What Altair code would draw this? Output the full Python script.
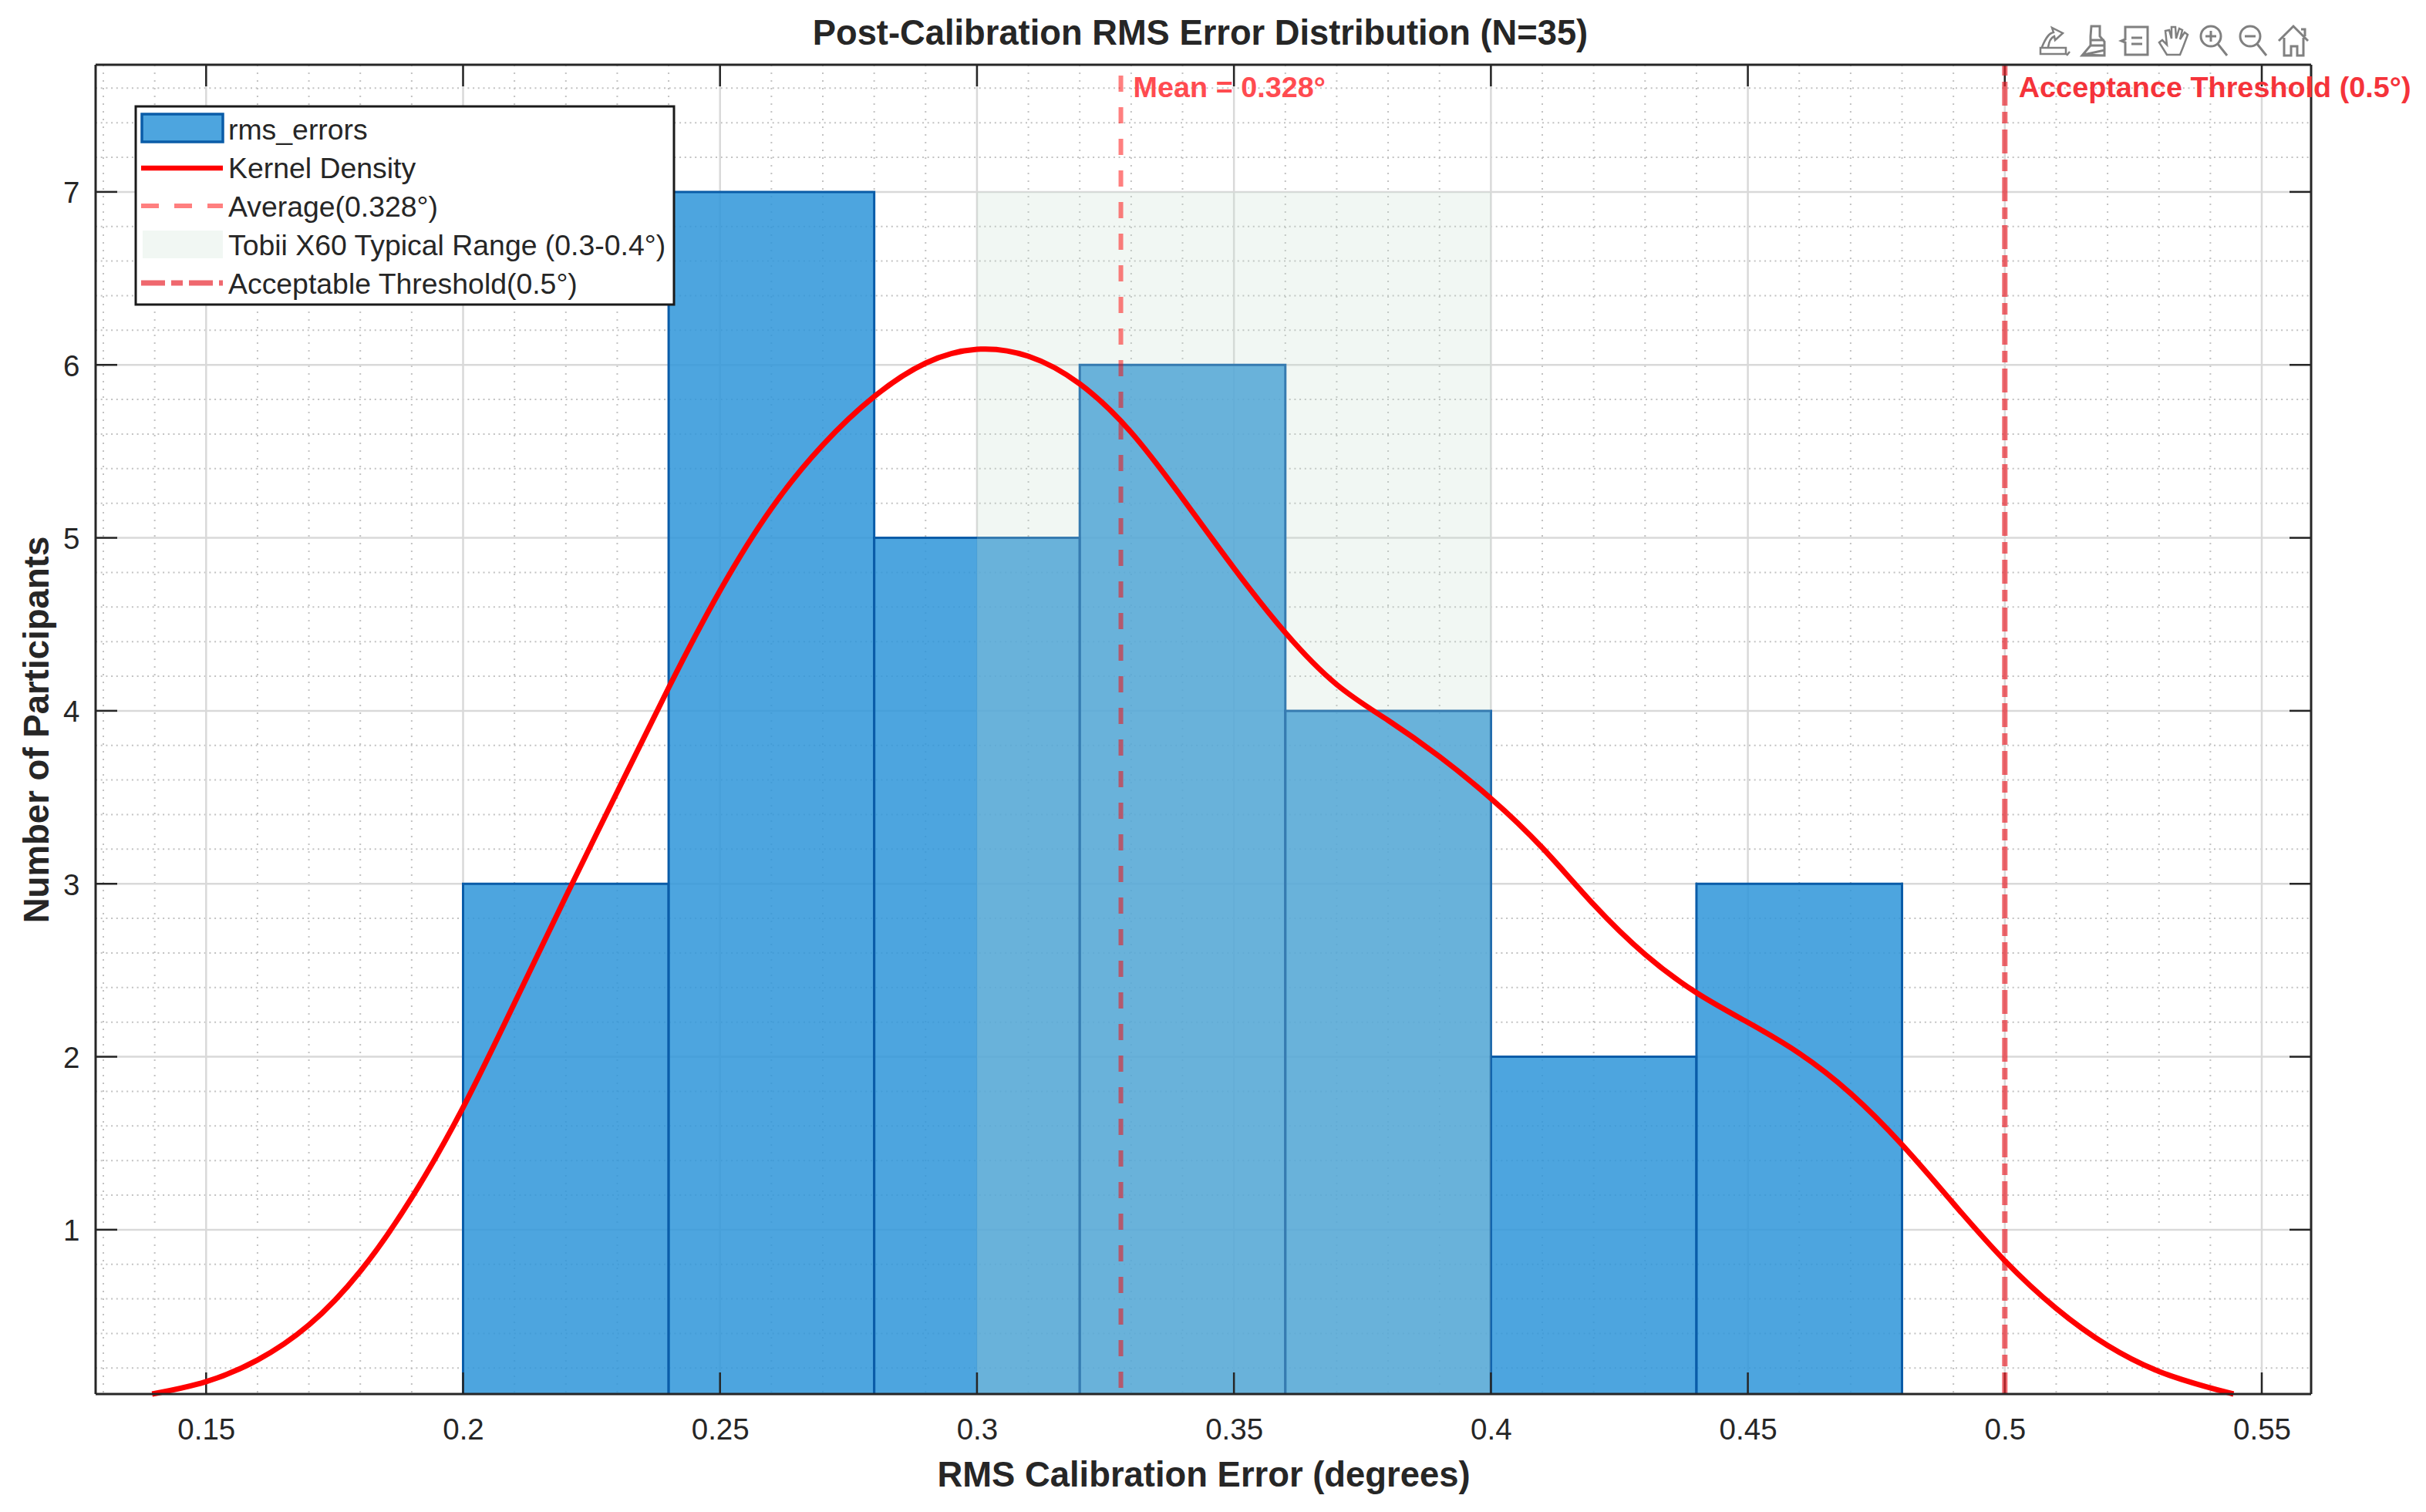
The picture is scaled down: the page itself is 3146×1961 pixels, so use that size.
import altair as alt
import pandas as pd

# ---- data ----
bin_left = [0.20, 0.24, 0.28, 0.32, 0.36, 0.40, 0.44]
bin_right = [0.24, 0.28, 0.32, 0.36, 0.40, 0.44, 0.48]
bin_count = [3, 7, 5, 6, 4, 2, 3]

kde_x = [0.1395, 0.15, 0.16, 0.17, 0.18, 0.19, 0.20, 0.21, 0.22, 0.23, 0.24,
         0.25, 0.26, 0.27, 0.28, 0.29, 0.30, 0.31, 0.32, 0.33, 0.34, 0.35, 0.36,
         0.37, 0.38, 0.39, 0.40, 0.41, 0.42, 0.43, 0.44, 0.45, 0.46, 0.47, 0.48, 0.49,
         0.50, 0.51, 0.52, 0.53, 0.54, 0.5445]
kde_y = [0.05, 0.11, 0.235, 0.43, 0.74, 1.17, 1.69, 2.31, 2.93, 3.53, 4.14,
         4.71, 5.19, 5.55, 5.83, 6.03, 6.11, 6.07, 5.91, 5.63, 5.23, 4.82, 4.44,
         4.13, 3.95, 3.74, 3.50, 3.22, 2.87, 2.58, 2.36, 2.20, 2.03, 1.80, 1.50, 1.15,
         0.81, 0.535, 0.32, 0.17, 0.085, 0.05]

x_ticks = [0.15, 0.2, 0.25, 0.3, 0.35, 0.4, 0.45, 0.5, 0.55]
y_ticks = [1, 2, 3, 4, 5, 6, 7]
x_minor = [0.13, 0.14, 0.16, 0.17, 0.18, 0.19, 0.21, 0.22, 0.23, 0.24, 0.26, 0.27, 0.28, 0.29,
           0.31, 0.32, 0.33, 0.34, 0.36, 0.37, 0.38, 0.39, 0.41, 0.42, 0.43, 0.44, 0.46, 0.47,
           0.48, 0.49, 0.51, 0.52, 0.53, 0.54]
y_minor = [0.2, 0.4, 0.6, 0.8, 1.2, 1.4, 1.6, 1.8, 2.2, 2.4, 2.6, 2.8, 3.2, 3.4, 3.6, 3.8,
           4.2, 4.4, 4.6, 4.8, 5.2, 5.4, 5.6, 5.8, 6.2, 6.4, 6.6, 6.8, 7.2, 7.4, 7.6]

mean_value = 0.328
threshold_value = 0.5
band_low, band_high, band_top = 0.3, 0.4, 7
note_y = 7.597

legend_labels = ["rms_errors", "Kernel Density", "Average(0.328°)",
                 "Tobii X60 Typical Range (0.3-0.4°)", "Acceptable Threshold(0.5°)"]

# ---- layout ----
W, H = 2873, 1724
FONT = "Liberation Sans"
INK = "#262626"
xs = alt.Scale(domain=[0.1285, 0.5596], nice=False, zero=False)
ys = alt.Scale(domain=[0.05, 7.735], nice=False, zero=False)

axis_x = alt.Axis(values=x_ticks, format=".2~f", grid=False, domain=False, ticks=False,
                  labelFont=FONT, labelFontSize=38.5, labelColor=INK, labelPadding=28,
                  title="RMS Calibration Error (degrees)", titleFont=FONT, titleFontSize=45.4,
                  titleFontWeight="bold", titleColor=INK, titlePadding=18, labelFlush=False)
axis_y = alt.Axis(values=y_ticks, format="d", grid=False, domain=False, ticks=False,
                  labelFont=FONT, labelFontSize=38.5, labelColor=INK, labelPadding=21, labelOffset=2,
                  title="Number of Participants", titleFont=FONT, titleFontSize=45.6,
                  titleFontWeight="bold", titleColor=INK, titlePadding=9)

X = lambda f: alt.X(f, type="quantitative", scale=xs, axis=axis_x)
Y = lambda f: alt.Y(f, type="quantitative", scale=ys, axis=axis_y)

def frame(name, values):
    return pd.DataFrame({name: values})

layers = []

layers.append(alt.Chart(frame("x", x_minor)).mark_rule(color="#c2c2c2", strokeWidth=2, strokeDash=[2, 8])
              .encode(x=X("x:Q"), y=alt.value(0), y2=alt.value(H)))
layers.append(alt.Chart(frame("y", y_minor)).mark_rule(color="#c2c2c2", strokeWidth=2, strokeDash=[2, 4.7])
              .encode(y=Y("y:Q"), x=alt.value(0), x2=alt.value(W)))
layers.append(alt.Chart(frame("x", x_ticks)).mark_rule(color="#d9d9d9", strokeWidth=2.5)
              .encode(x=X("x:Q"), y=alt.value(0), y2=alt.value(H)))
layers.append(alt.Chart(frame("y", y_ticks)).mark_rule(color="#d9d9d9", strokeWidth=2.5)
              .encode(y=Y("y:Q"), x=alt.value(0), x2=alt.value(W)))

# histogram
bars = pd.DataFrame({"a": bin_left, "b": bin_right, "n": bin_count})
layers.append(alt.Chart(bars).mark_bar(fill="#2E95D9", fillOpacity=0.85, stroke="#0A5CA8",
                                       strokeWidth=3, clip=True)
              .encode(x=X("a:Q"), x2="b:Q", y=Y("n:Q"), y2=alt.datum(0)))

# Tobii band
band = pd.DataFrame({"a": [band_low], "b": [band_high], "t": [band_top]})
layers.append(alt.Chart(band).mark_rect(fill="#C3DECD", fillOpacity=0.24, clip=True)
              .encode(x=X("a:Q"), x2="b:Q", y=Y("t:Q"), y2=alt.datum(0)))

# mean line
layers.append(alt.Chart(frame("x", [mean_value])).mark_rule(color="#ff0000", opacity=0.5, strokeWidth=6,
                                                            strokeDash=[21, 20], strokeDashOffset=27)
              .encode(x=X("x:Q"), y=alt.value(0), y2=alt.value(H)))

# inward ticks
tick_len = 28
for y0, y1 in [(H, H - tick_len), (0, tick_len)]:
    layers.append(alt.Chart(frame("x", x_ticks)).mark_rule(color=INK, strokeWidth=2.5)
                  .encode(x=X("x:Q"), y=alt.value(y0), y2=alt.value(y1)))
for x0, x1 in [(0, tick_len), (W, W - tick_len)]:
    layers.append(alt.Chart(frame("y", y_ticks)).mark_rule(color=INK, strokeWidth=2.5)
                  .encode(y=Y("y:Q"), x=alt.value(x0), x2=alt.value(x1)))

# threshold
layers.append(alt.Chart(frame("x", [threshold_value])).mark_rule(color="#e8202a", opacity=0.68, strokeWidth=7,
                                                                 strokeDash=[31, 8, 15, 8], strokeDashOffset=40)
              .encode(x=X("x:Q"), y=alt.value(0), y2=alt.value(H)))

# kernel density
kde = pd.DataFrame({"x": kde_x, "y": kde_y})
layers.append(alt.Chart(kde).mark_line(color="#ff0000", strokeWidth=7, interpolate="basis")
              .encode(x=X("x:Q"), y=Y("y:Q"), order=alt.Order("x:Q")))

# frame
for enc in [dict(x=alt.value(0), x2=alt.value(W), y=alt.value(0)),
            dict(x=alt.value(0), x2=alt.value(W), y=alt.value(H)),
            dict(y=alt.value(0), y2=alt.value(H), x=alt.value(0)),
            dict(y=alt.value(0), y2=alt.value(H), x=alt.value(W))]:
    layers.append(alt.Chart(frame("k", [0])).mark_rule(color=INK, strokeWidth=3).encode(**enc))

# annotations
layers.append(alt.Chart(pd.DataFrame({"x": [mean_value], "y": [note_y], "t": ["Mean = 0.328°"]}))
              .mark_text(font=FONT, fontSize=37.8, fontWeight="bold", color="#ff4b50", align="left",
                         baseline="middle", dx=16)
              .encode(x=X("x:Q"), y=Y("y:Q"), text="t:N"))
layers.append(alt.Chart(pd.DataFrame({"x": [threshold_value], "y": [note_y], "t": ["Acceptance Threshold (0.5°)"]}))
              .mark_text(font=FONT, fontSize=37.8, fontWeight="bold", color="#f5333a", align="left",
                         baseline="middle", dx=18)
              .encode(x=X("x:Q"), y=Y("y:Q"), text="t:N"))

# hand-built legend box
one = frame("k", [0])
layers.append(alt.Chart(one).mark_rect(fill="white", stroke="#1a1a1a", strokeWidth=3)
              .encode(x=alt.value(52), x2=alt.value(750), y=alt.value(54), y2=alt.value(311)))
layers.append(alt.Chart(one).mark_rect(fill="#4DA5DF", stroke="#0A5CA8", strokeWidth=3.5)
              .encode(x=alt.value(60), x2=alt.value(165), y=alt.value(64), y2=alt.value(100)))
layers.append(alt.Chart(one).mark_rule(color="#ff0000", strokeWidth=6.5)
              .encode(x=alt.value(59), x2=alt.value(165), y=alt.value(134)))
layers.append(alt.Chart(one).mark_rule(color="#ff0000", opacity=0.5, strokeWidth=6, strokeDash=[23, 20])
              .encode(x=alt.value(59), x2=alt.value(165), y=alt.value(183)))
layers.append(alt.Chart(one).mark_rect(fill="#C3DECD", fillOpacity=0.24)
              .encode(x=alt.value(61), x2=alt.value(165), y=alt.value(215), y2=alt.value(251)))
layers.append(alt.Chart(one).mark_rule(color="#e8202a", opacity=0.68, strokeWidth=7, strokeDash=[31, 8, 15, 8])
              .encode(x=alt.value(59), x2=alt.value(165), y=alt.value(283)))
for row, label in enumerate(legend_labels):
    layers.append(alt.Chart(one).mark_text(font=FONT, fontSize=37.4, color=INK, align="left",
                                           baseline="middle", text=label)
                  .encode(x=alt.value(172), y=alt.value(86 + 50 * row)))

# toolbar icons
icons = [
    (2541, "M-0.95,0.45 L0.7,0.45 L0.7,0.85 L-0.95,0.85 Z M-0.85,0.4 C-0.6,-0.2 -0.4,-0.5 -0.1,-0.55 L-0.2,-0.85 L0.5,-0.5 L0,-0.05 L-0.05,-0.3 C-0.3,-0.2 -0.4,0.1 -0.45,0.4 M0.75,0.95 L0.95,0.7", 2.5),
    (2593, "M-0.25,-0.95 L0.3,-0.95 L0.3,-0.3 L0.6,0.05 L0.6,0.95 L-0.85,0.95 L-0.3,0.3 L-0.3,-0.3 Z M-0.35,-0.05 L0.6,-0.05 M-0.35,0.3 L0.6,0.3 M-0.75,0.9 L0.6,0.6 L0.6,0.95 Z", 3),
    (2646, "M-0.7,-0.9 L0.75,-0.9 L0.75,0.9 L-0.7,0.9 L-0.7,0.1 L-0.95,0 L-0.7,-0.1 Z M-0.3,-0.2 L0.4,-0.2 M-0.3,0.2 L0.4,0.2", 3),
    (2695, "M-0.45,0.9 L-0.95,0.1 L-0.75,-0.05 L-0.45,0.25 L-0.55,-0.65 L-0.3,-0.7 L-0.15,-0.15 L-0.15,-0.9 L0.1,-0.9 L0.15,-0.15 L0.35,-0.8 L0.55,-0.7 L0.4,-0.1 L0.7,-0.55 L0.9,-0.4 L0.6,0.4 L0.4,0.9 Z", 2.5),
    (2746, "M0.5,-0.3 A0.65,0.65 0 1 1 -0.8,-0.3 A0.65,0.65 0 1 1 0.5,-0.3 M0.3,0.2 L0.9,0.95 M-0.15,-0.65 L-0.15,0.05 M-0.5,-0.3 L0.2,-0.3", 3),
    (2797, "M0.5,-0.3 A0.65,0.65 0 1 1 -0.8,-0.3 A0.65,0.65 0 1 1 0.5,-0.3 M0.3,0.2 L0.9,0.95 M-0.5,-0.3 L0.2,-0.3", 3),
    (2850, "M-0.95,0 L0,-0.95 L0.95,0 M-0.6,-0.2 L-0.6,0.95 L-0.15,0.95 L-0.15,0.35 L0.25,0.35 L0.25,0.95 L0.65,0.95 L0.65,-0.2 M0.5,-0.75 L0.75,-0.75 L0.75,-0.3", 3),
]
for px, path, sw in icons:
    layers.append(alt.Chart(one).mark_point(shape=path, size=1600, filled=False, stroke="#808080",
                                            strokeWidth=sw, opacity=1)
                  .encode(x=alt.value(px), y=alt.value(-31)))

chart = (
    alt.layer(*layers)
    .resolve_scale(x="shared", y="shared")
    .properties(
        width=W, height=H,
        title=alt.TitleParams("Post-Calibration RMS Error Distribution (N=35)", font=FONT, fontSize=45.3,
                              fontWeight="bold", color=INK, anchor="middle", offset=-39, dx=-4),
        padding={"left": 116, "top": 76, "right": 141, "bottom": 145},
        autosize=alt.AutoSizeParams(type="none"),
        background="white",
    )
    .configure_view(stroke=None)
)
chart.save("out.html", embed_options={"renderer": "svg", "actions": False})
